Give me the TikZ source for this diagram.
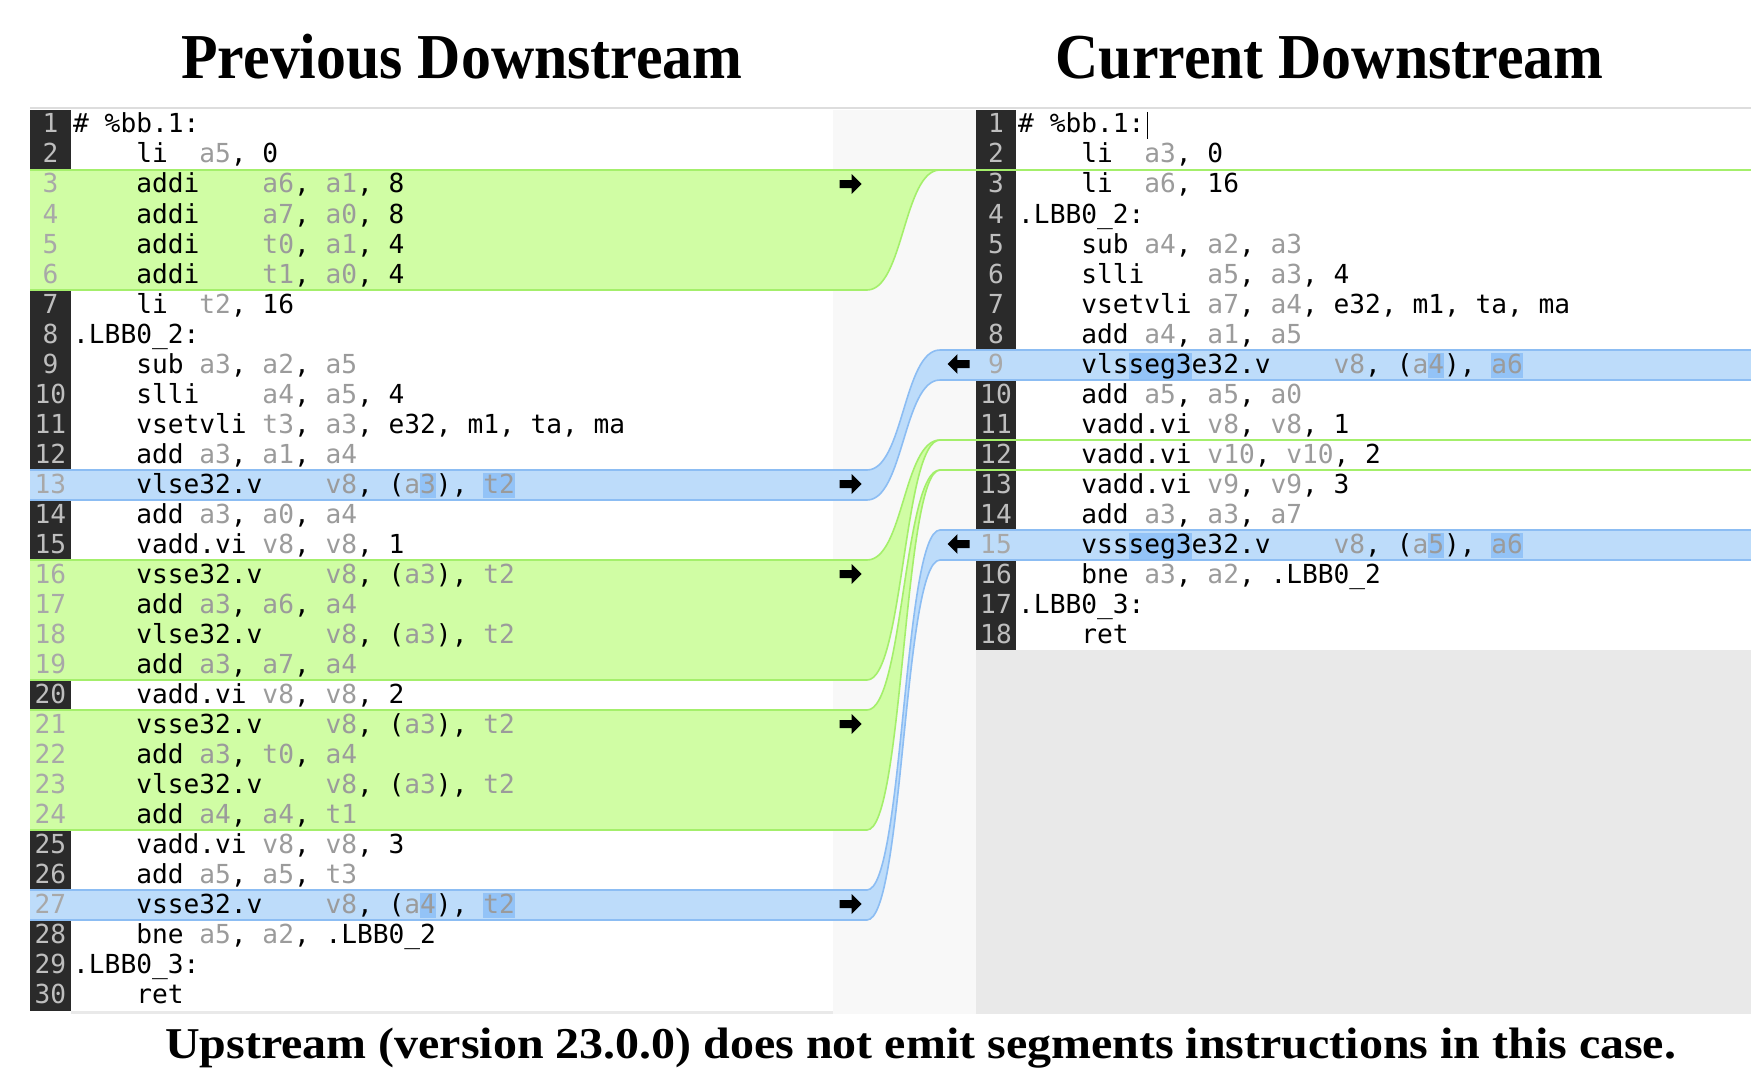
\documentclass[tikz,border=0pt]{standalone}
\usepackage{fontspec}
\setmainfont{Liberation Serif}
\newfontfamily\codefont{DejaVu Sans Mono}
\newfontfamily\headfont[FakeStretch=0.935]{Liberation Serif}
\newfontfamily\notefont[FakeStretch=1.09]{Liberation Serif}
\usepackage{tikz}
\usetikzlibrary{shapes.arrows}

\definecolor{gut}{HTML}{2A2A2A}
\definecolor{gutnum}{HTML}{BEBEBE}
\definecolor{chnum}{HTML}{A8A8A8}
\definecolor{reg}{HTML}{9B9B9B}
\definecolor{insfill}{HTML}{D0FDA4}
\definecolor{insline}{HTML}{A4EF6B}
\definecolor{chgfill}{HTML}{BDDCFA}
\definecolor{chgline}{HTML}{8CBDF3}
\definecolor{tok}{HTML}{93C3F7}
\definecolor{gap}{HTML}{F8F8F8}
\definecolor{nolines}{HTML}{E9E9E9}
\definecolor{sepline}{HTML}{DDDDDD}

\newcommand{\rg}[1]{\textcolor{reg}{#1}}
\newcommand{\hl}[1]{{\setlength{\fboxsep}{0pt}\colorbox{tok}{\rule[-5pt]{0pt}{25pt}#1}}}
\newcommand{\codesize}{\fontsize{26.2pt}{30pt}\selectfont\frenchspacing}

\begin{document}
\begin{tikzpicture}[x=1pt,y=-1pt,
code/.style={anchor=base west,inner sep=0pt,font=\codefont\codesize},
num/.style={anchor=base,inner sep=0pt,font=\codefont\codesize,text=gutnum}]
\tikzstyle{head}=[anchor=base,inner sep=0pt,font=\headfont\bfseries\fontsize{64pt}{70pt}\selectfont]
\tikzstyle{note}=[anchor=base,inner sep=0pt,font=\notefont\bfseries\fontsize{44pt}{50pt}\selectfont]
\tikzstyle{copyR}=[single arrow,fill=black,inner xsep=0pt,inner ysep=3.8pt,minimum height=22pt,single arrow head extend=5.8pt,single arrow head indent=0pt]
\tikzstyle{copyL}=[copyR,shape border rotate=180]

\useasboundingbox (0,0) rectangle (1751,1070);

\fill[gap] (833,110) rectangle (976,1014);
\fill[gut] (30,110) rectangle (71,1011);
\fill[gut] (976,110) rectangle (1016,650);
\fill[nolines] (976,650) rectangle (1751,1014);
\fill[nolines] (71,1011) rectangle (833,1014);
\draw[sepline,line width=2.2pt] (30,108) -- (1751,108);

\foreach \lt/\lb/\rt/\rb/\cf/\cl in {170/290/170/170/insfill/insline,470/500/350/380/chgfill/chgline,560/680/440/440/insfill/insline,710/830/470/470/insfill/insline,890/920/530/560/chgfill/chgline}{
  \fill[fill=\cf] (30,\lt) -- (867,\lt) .. controls (903.5,\lt) and (903.5,\rt) .. (940,\rt) -- (1751,\rt) -- (1751,\rb) -- (940,\rb) .. controls (903.5,\rb) and (903.5,\lb) .. (867,\lb) -- (30,\lb) -- cycle;
  \draw[draw=\cl,line width=1.6pt] (30,\lt) -- (867,\lt) .. controls (903.5,\lt) and (903.5,\rt) .. (940,\rt) -- (1751,\rt);
  \draw[draw=\cl,line width=1.6pt] (30,\lb) -- (867,\lb) .. controls (903.5,\lb) and (903.5,\rb) .. (940,\rb) -- (1751,\rb);
}

\node[head] (prev) at (462,79) {Previous Downstream};
\node[head] (cur) at (1329.5,79) {Current Downstream};

\foreach \i in {1,2,7,8,9,10,11,12,14,15,20,25,26,28,29,30}
  \node[num] (lnL\i) at (50.5,{133+30*(\i-1)}) {\i};
\foreach \i in {3,4,5,6,13,16,17,18,19,21,22,23,24,27}
  \node[num,text=chnum] (lnL\i) at (50.5,{133+30*(\i-1)}) {\i};
\foreach \i in {1,2,3,4,5,6,7,8,10,11,12,13,14,16,17,18}
  \node[num] (lnR\i) at (996,{133+30*(\i-1)}) {\i};
\foreach \i in {9,15}
  \node[num,text=chnum] (lnR\i) at (996,{133+30*(\i-1)}) {\i};

\node[code] (L1) at (73,133) {\#~\%bb.1:};
\node[code] (L2) at (73,163) {~~~~li~~\rg{a5}, 0};
\node[code] (L3) at (73,193) {~~~~addi~~~~\rg{a6}, \rg{a1}, 8};
\node[code] (L4) at (73,223) {~~~~addi~~~~\rg{a7}, \rg{a0}, 8};
\node[code] (L5) at (73,253) {~~~~addi~~~~\rg{t0}, \rg{a1}, 4};
\node[code] (L6) at (73,283) {~~~~addi~~~~\rg{t1}, \rg{a0}, 4};
\node[code] (L7) at (73,313) {~~~~li~~\rg{t2}, 16};
\node[code] (L8) at (73,343) {.LBB0\_2:};
\node[code] (L9) at (73,373) {~~~~sub \rg{a3}, \rg{a2}, \rg{a5}};
\node[code] (L10) at (73,403) {~~~~slli~~~~\rg{a4}, \rg{a5}, 4};
\node[code] (L11) at (73,433) {~~~~vsetvli \rg{t3}, \rg{a3}, e32, m1, ta, ma};
\node[code] (L12) at (73,463) {~~~~add \rg{a3}, \rg{a1}, \rg{a4}};
\node[code] (L13) at (73,493) {~~~~vlse32.v~~~~\rg{v8}, (\rg{a\hl{3}}), \rg{\hl{t2}}};
\node[code] (L14) at (73,523) {~~~~add \rg{a3}, \rg{a0}, \rg{a4}};
\node[code] (L15) at (73,553) {~~~~vadd.vi \rg{v8}, \rg{v8}, 1};
\node[code] (L16) at (73,583) {~~~~vsse32.v~~~~\rg{v8}, (\rg{a3}), \rg{t2}};
\node[code] (L17) at (73,613) {~~~~add \rg{a3}, \rg{a6}, \rg{a4}};
\node[code] (L18) at (73,643) {~~~~vlse32.v~~~~\rg{v8}, (\rg{a3}), \rg{t2}};
\node[code] (L19) at (73,673) {~~~~add \rg{a3}, \rg{a7}, \rg{a4}};
\node[code] (L20) at (73,703) {~~~~vadd.vi \rg{v8}, \rg{v8}, 2};
\node[code] (L21) at (73,733) {~~~~vsse32.v~~~~\rg{v8}, (\rg{a3}), \rg{t2}};
\node[code] (L22) at (73,763) {~~~~add \rg{a3}, \rg{t0}, \rg{a4}};
\node[code] (L23) at (73,793) {~~~~vlse32.v~~~~\rg{v8}, (\rg{a3}), \rg{t2}};
\node[code] (L24) at (73,823) {~~~~add \rg{a4}, \rg{a4}, \rg{t1}};
\node[code] (L25) at (73,853) {~~~~vadd.vi \rg{v8}, \rg{v8}, 3};
\node[code] (L26) at (73,883) {~~~~add \rg{a5}, \rg{a5}, \rg{t3}};
\node[code] (L27) at (73,913) {~~~~vsse32.v~~~~\rg{v8}, (\rg{a\hl{4}}), \rg{\hl{t2}}};
\node[code] (L28) at (73,943) {~~~~bne \rg{a5}, \rg{a2}, .LBB0\_2};
\node[code] (L29) at (73,973) {.LBB0\_3:};
\node[code] (L30) at (73,1003) {~~~~ret};

\node[code] (R1) at (1018,133) {\#~\%bb.1:};
\node[code] (R2) at (1018,163) {~~~~li~~\rg{a3}, 0};
\node[code] (R3) at (1018,193) {~~~~li~~\rg{a6}, 16};
\node[code] (R4) at (1018,223) {.LBB0\_2:};
\node[code] (R5) at (1018,253) {~~~~sub \rg{a4}, \rg{a2}, \rg{a3}};
\node[code] (R6) at (1018,283) {~~~~slli~~~~\rg{a5}, \rg{a3}, 4};
\node[code] (R7) at (1018,313) {~~~~vsetvli \rg{a7}, \rg{a4}, e32, m1, ta, ma};
\node[code] (R8) at (1018,343) {~~~~add \rg{a4}, \rg{a1}, \rg{a5}};
\node[code] (R9) at (1018,373) {~~~~vls\hl{seg3}e32.v~~~~\rg{v8}, (\rg{a\hl{4}}), \rg{\hl{a6}}};
\node[code] (R10) at (1018,403) {~~~~add \rg{a5}, \rg{a5}, \rg{a0}};
\node[code] (R11) at (1018,433) {~~~~vadd.vi \rg{v8}, \rg{v8}, 1};
\node[code] (R12) at (1018,463) {~~~~vadd.vi \rg{v10}, \rg{v10}, 2};
\node[code] (R13) at (1018,493) {~~~~vadd.vi \rg{v9}, \rg{v9}, 3};
\node[code] (R14) at (1018,523) {~~~~add \rg{a3}, \rg{a3}, \rg{a7}};
\node[code] (R15) at (1018,553) {~~~~vss\hl{seg3}e32.v~~~~\rg{v8}, (\rg{a\hl{5}}), \rg{\hl{a6}}};
\node[code] (R16) at (1018,583) {~~~~bne \rg{a3}, \rg{a2}, .LBB0\_2};
\node[code] (R17) at (1018,613) {.LBB0\_3:};
\node[code] (R18) at (1018,643) {~~~~ret};
\draw[line width=1.3pt] (R1.base east) ++(3,-21) -- ++(0,27);

\node[copyR] (cpL3) at (848.5,184) {};
\node[copyR] (cpL13) at (848.5,484) {};
\node[copyR] (cpL16) at (848.5,574) {};
\node[copyR] (cpL21) at (848.5,724) {};
\node[copyR] (cpL27) at (848.5,904) {};
\node[copyL] (cpR9) at (960.5,364) {};
\node[copyL] (cpR15) at (960.5,544) {};

\node[note] (cap) at (920.7,1058) {Upstream (version 23.0.0) does not emit segments instructions in this case.};
\end{tikzpicture}
\end{document}
